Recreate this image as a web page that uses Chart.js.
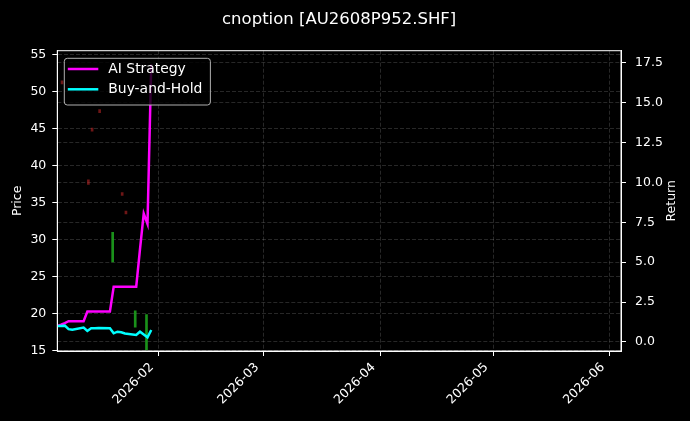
<!DOCTYPE html>
<html>
<head>
<meta charset="utf-8">
<title>cnoption [AU2608P952.SHF]</title>
<script src="https://cdn.jsdelivr.net/npm/chart.js@4.4.1/dist/chart.umd.min.js"></script>
<style>
  html, body { margin: 0; padding: 0; background: #000; }
  #wrap { width: 690px; height: 421px; position: relative; }
</style>
</head>
<body>
<div id="wrap"><canvas id="chart"></canvas></div>
<script>
// trading days shown in the picture
const dates = [
  "2026-01-05", "2026-01-06", "2026-01-07", "2026-01-08", "2026-01-09",
  "2026-01-12", "2026-01-13", "2026-01-14", "2026-01-15", "2026-01-16",
  "2026-01-19", "2026-01-20", "2026-01-21", "2026-01-22", "2026-01-23",
  "2026-01-26", "2026-01-27", "2026-01-28", "2026-01-29", "2026-01-30",
];
const aiStrategy = [1.0, 1.08, 1.18, 1.3, 1.3, 1.3, 1.9, 1.9, 1.9, 1.9, 1.9, 3.46, 3.46, 3.46, 3.46, 3.46, 5.8, 8.05, 7.4, 17.4];
const buyAndHold = [1.0, 1.0, 1.02, 0.8, 0.76, 0.9, 0.69, 0.86, 0.86, 0.87, 0.86, 0.54, 0.64, 0.6, 0.53, 0.44, 0.64, 0.47, 0.29, 0.75];

// candles (price axis), only the ones that are visible
const upDates = ["2026-01-20", "2026-01-26", "2026-01-29"];
const upLow = [27.0, 18.2, 15.1];
const upHigh = [31.0, 20.4, 19.9];
const downDates = ["2026-01-06", "2026-01-13", "2026-01-14", "2026-01-16", "2026-01-22", "2026-01-23"];
const downLow = [51.1, 37.5, 44.7, 47.2, 36.0, 33.5];
const downHigh = [51.5, 38.1, 45.1, 47.6, 36.4, 33.9];

const dateTicks = ["2026-02-01", "2026-03-01", "2026-04-01", "2026-05-01", "2026-06-01"];
const priceTicks = [15, 20, 25, 30, 35, 40, 45, 50, 55];
const returnTicks = [0, 2.5, 5, 7.5, 10, 12.5, 15, 17.5];

const FONT = "'DejaVu Sans', 'Liberation Sans', sans-serif";
const GRID = "rgba(255, 255, 255, 0.22)";
const t = (d) => Date.parse(d);

const series = (xs, ys) => xs.map((d, i) => ({ x: t(d), y: ys[i] }));
const ranges = (xs, lo, hi) => xs.map((d, i) => ({ x: t(d), y: [lo[i], hi[i]] }));

// frame on all four sides, legend inside the plot, right axis title read bottom-up
const frameAndLegend = {
  id: "frameAndLegend",
  afterDatasetsDraw(chart) {
    const { ctx, chartArea: a } = chart;
    ctx.save();
    ctx.strokeStyle = "#ffffff";
    ctx.lineWidth = 1;
    ctx.strokeRect(a.left, a.top, a.right - a.left, a.bottom - a.top);

    const items = chart.data.datasets.filter((d) => d.type === "line");
    ctx.font = `13.9px ${FONT}`;
    const textW = Math.max(...items.map((d) => ctx.measureText(d.label).width));
    const bx = a.left + 7;
    const by = a.top + 7.6;
    const bw = 44 + textW + 8;
    const bh = 46.7;
    ctx.beginPath();
    ctx.roundRect(bx, by, bw, bh, 3);
    ctx.fillStyle = "rgba(0, 0, 0, 0.8)";
    ctx.fill();
    ctx.strokeStyle = "#b0b0b0";
    ctx.stroke();

    items.forEach((d, i) => {
      const y = by + 10.7 + i * 20.3;
      ctx.strokeStyle = d.borderColor;
      ctx.lineWidth = 2.5;
      ctx.beginPath();
      ctx.moveTo(bx + 3.5, y);
      ctx.lineTo(bx + 34, y);
      ctx.stroke();
      ctx.fillStyle = "#ffffff";
      ctx.textBaseline = "middle";
      ctx.fillText(d.label, bx + 44, y + 0.5);
    });

    const right = chart.scales.y1;
    ctx.translate(right.right - 18, (a.top + a.bottom) / 2);
    ctx.rotate(-Math.PI / 2);
    ctx.font = `12.5px ${FONT}`;
    ctx.textAlign = "center";
    ctx.textBaseline = "middle";
    ctx.fillStyle = "#ffffff";
    ctx.fillText("Return", 0, 0);
    ctx.restore();
  },
};

new Chart(document.getElementById("chart"), {
  type: "line",
  data: {
    datasets: [
      {
        type: "line",
        label: "AI Strategy",
        data: series(dates, aiStrategy),
        yAxisID: "y1",
        borderColor: "#ff00ff",
        borderWidth: 2.5,
        pointRadius: 0,
        tension: 0,
        order: 1,
      },
      {
        type: "line",
        label: "Buy-and-Hold",
        data: series(dates, buyAndHold),
        yAxisID: "y1",
        borderColor: "#00ffff",
        borderWidth: 2.5,
        pointRadius: 0,
        tension: 0,
        order: 0,
      },
      {
        type: "bar",
        label: "up",
        data: ranges(upDates, upLow, upHigh),
        yAxisID: "y",
        backgroundColor: "rgba(30, 170, 30, 0.85)",
        barThickness: 2,
        order: 5,
      },
      {
        type: "bar",
        label: "down",
        data: ranges(downDates, downLow, downHigh),
        yAxisID: "y",
        backgroundColor: "rgba(200, 40, 40, 0.55)",
        barThickness: 2,
        order: 6,
      },
    ],
  },
  options: {
    responsive: true,
    maintainAspectRatio: false,
    animation: false,
    layout: { padding: 0 },
    plugins: {
      legend: { display: false },
      tooltip: { enabled: false },
      title: {
        display: true,
        text: "cnoption [AU2608P952.SHF]",
        color: "#ffffff",
        fullSize: false,
        font: { family: FONT, size: 16.5, weight: "normal", lineHeight: 1.2 },
        padding: { top: 10, bottom: 20.9 },
      },
    },
    scales: {
      x: {
        type: "linear",
        min: t("2026-01-05"),
        max: t("2026-06-04"),
        offset: false,
        afterBuildTicks: (scale) => {
          scale.ticks = dateTicks.map((d) => ({ value: t(d) }));
        },
        afterFit: (scale) => { scale.height = 70; },
        ticks: {
          autoSkip: false,
          maxRotation: 45,
          minRotation: 45,
          padding: 4,
          labelOffset: -7,
          color: "#ffffff",
          font: { family: FONT, size: 12.5 },
          callback: (value) => {
            const d = new Date(value);
            return `${d.getUTCFullYear()}-${String(d.getUTCMonth() + 1).padStart(2, "0")}`;
          },
        },
        grid: { color: GRID, lineWidth: 0.7, offset: false, tickColor: "#ffffff", tickLength: 5, tickWidth: 1 },
        border: { color: "#ffffff", width: 1, dash: [4, 2] },
      },
      y: {
        position: "left",
        min: 14.96,
        max: 55.58,
        afterBuildTicks: (scale) => {
          scale.ticks = priceTicks.map((v) => ({ value: v }));
        },
        afterFit: (scale) => { scale.width = 57.3; },
        ticks: {
          color: "#ffffff",
          padding: 6,
          font: { family: FONT, size: 12.5 },
          callback: (v) => String(v),
        },
        title: {
          display: true,
          text: "Price",
          color: "#ffffff",
          font: { family: FONT, size: 12.5 },
          padding: { top: 10, bottom: 0 },
        },
        grid: { color: GRID, lineWidth: 0.7, tickColor: "#ffffff", tickLength: 5, tickWidth: 1 },
        border: { color: "#ffffff", width: 1, dash: [4, 2] },
      },
      y1: {
        position: "right",
        min: -0.57,
        max: 18.26,
        afterBuildTicks: (scale) => {
          scale.ticks = returnTicks.map((v) => ({ value: v }));
        },
        afterFit: (scale) => { scale.width = 69; },
        ticks: {
          color: "#ffffff",
          padding: 9,
          font: { family: FONT, size: 12.5 },
          callback: (v) => Number(v).toFixed(1),
        },
        grid: { color: GRID, lineWidth: 0.7, tickColor: "#ffffff", tickLength: 5, tickWidth: 1 },
        border: { color: "#ffffff", width: 1, dash: [4, 2] },
      },
    },
  },
  plugins: [frameAndLegend],
});
</script>
</body>
</html>
